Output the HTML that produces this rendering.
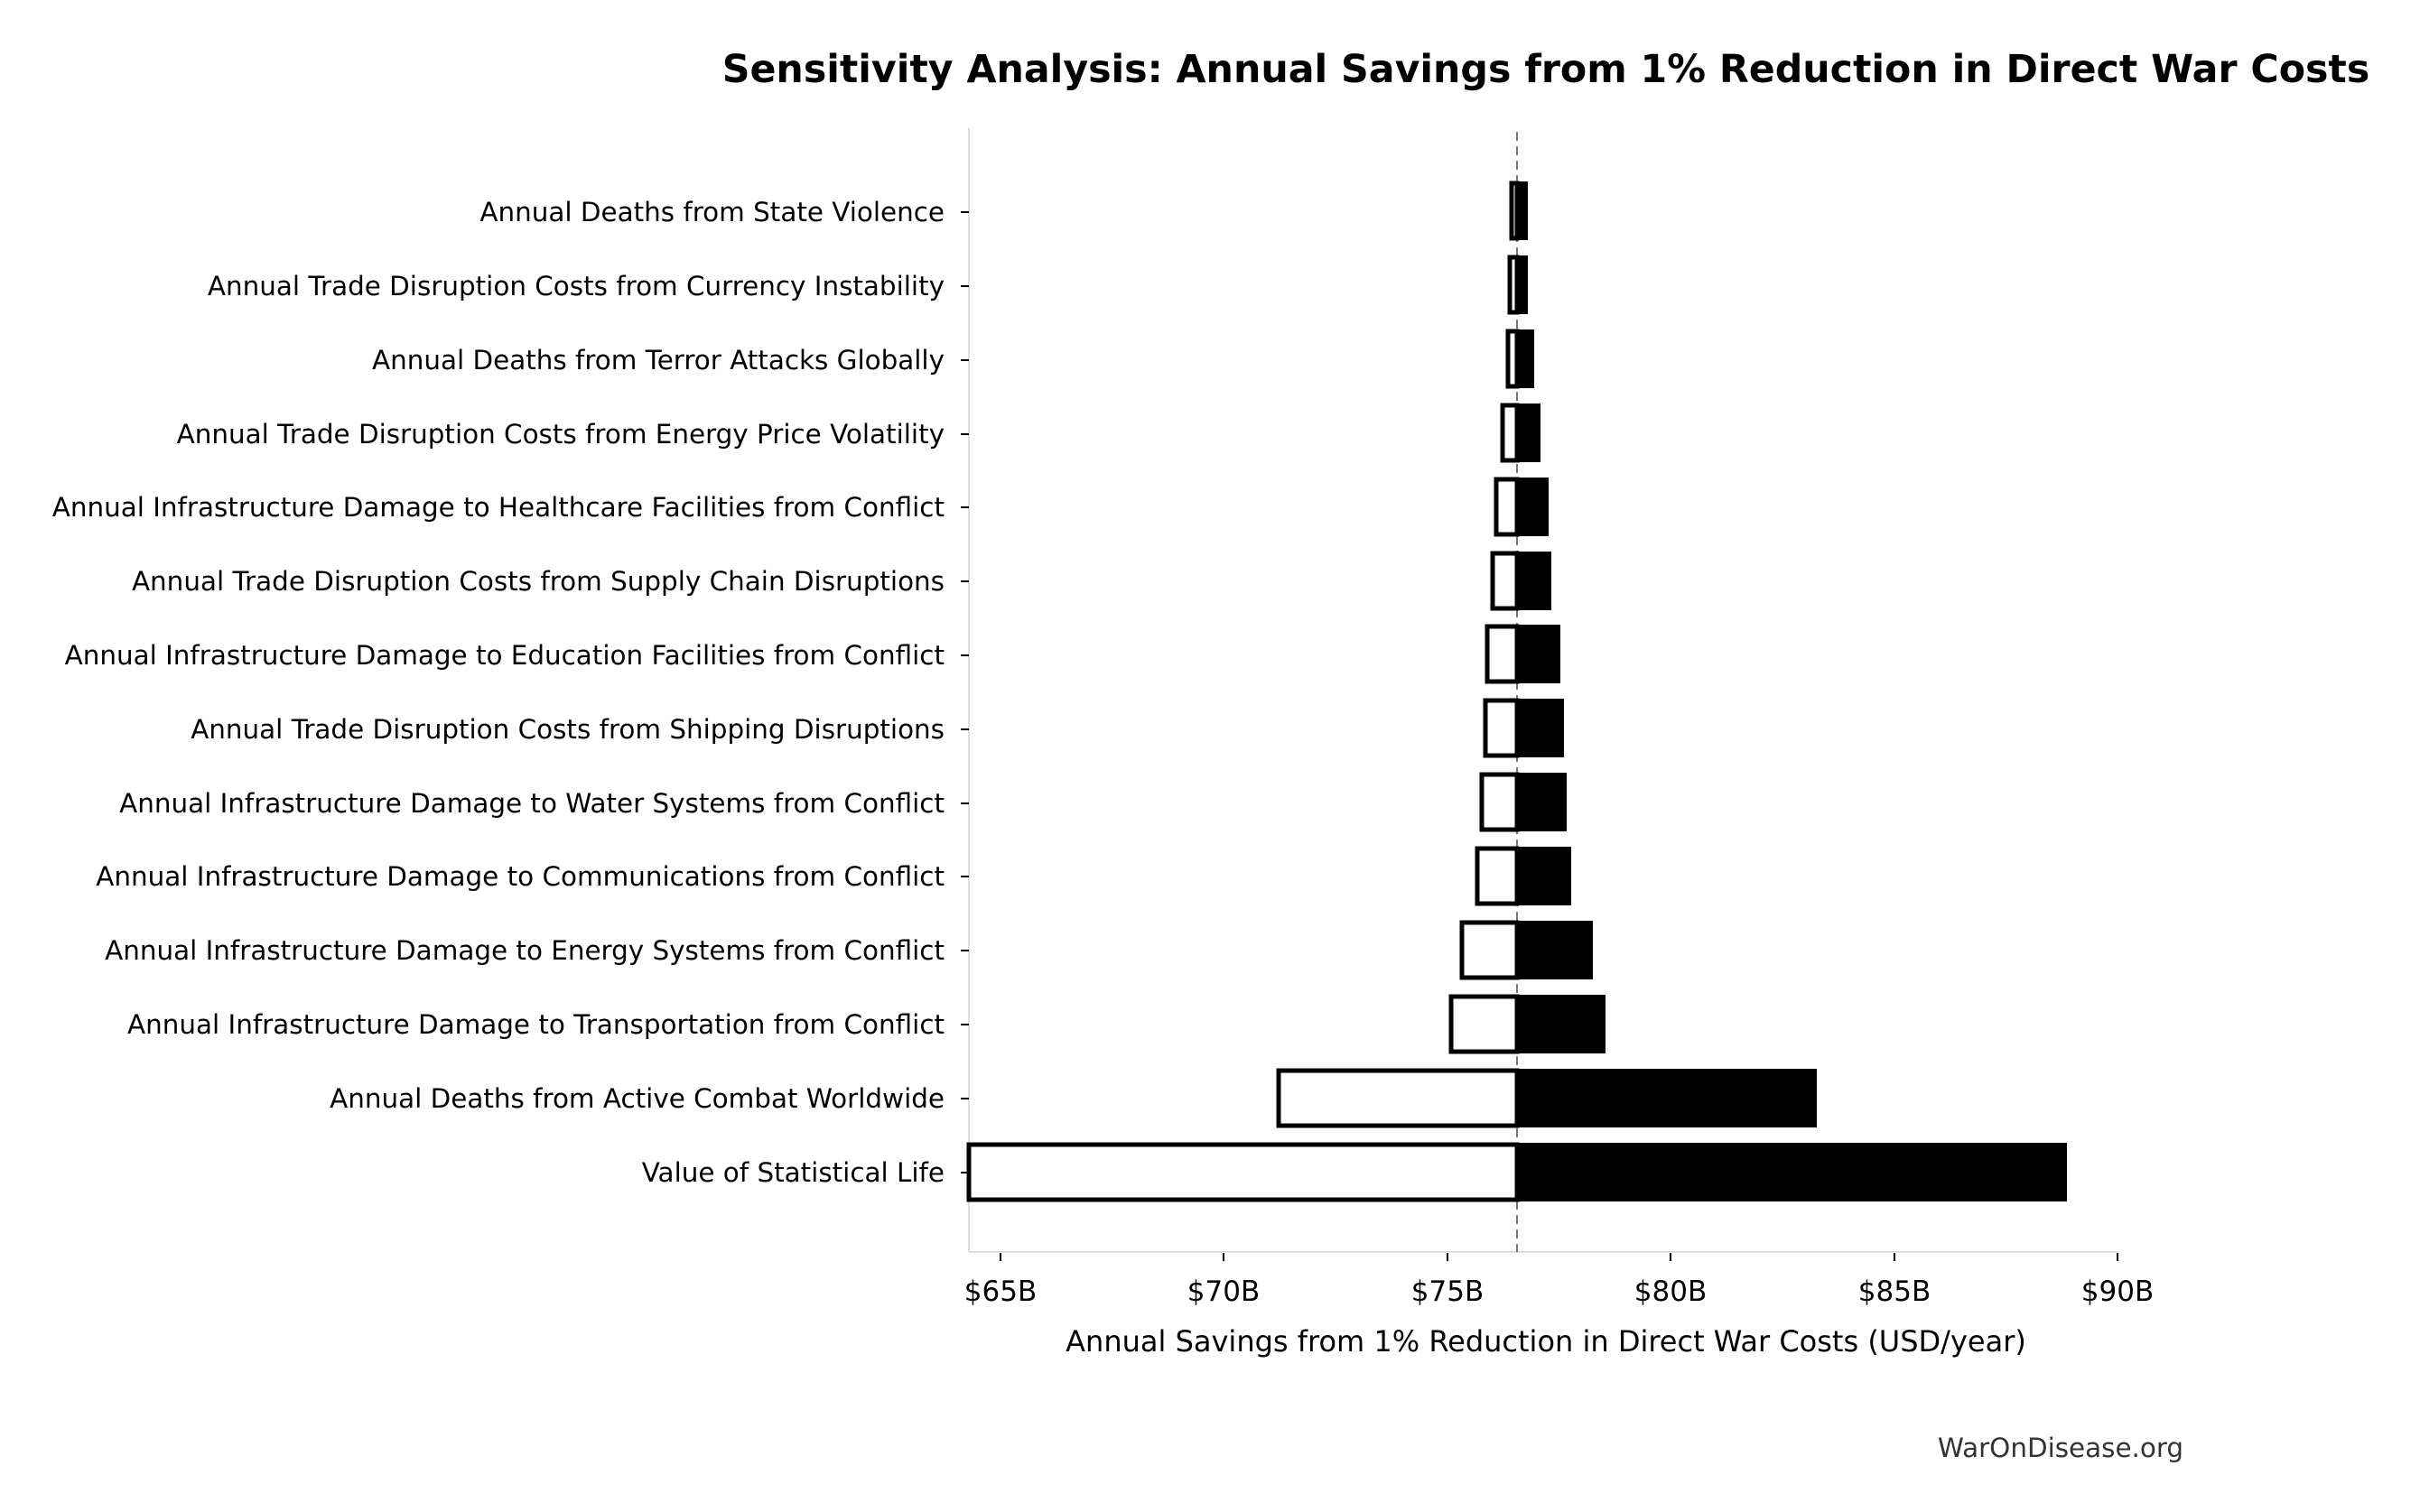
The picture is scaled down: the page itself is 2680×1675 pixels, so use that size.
<!DOCTYPE html>
<html><head><meta charset="utf-8"><style>
html,body{margin:0;padding:0;background:#fff}
svg{display:block}
text{font-family:"DejaVu Sans","Liberation Sans",sans-serif}
</style></head><body>
<svg width="2680" height="1675" viewBox="0 0 2680 1675" xmlns="http://www.w3.org/2000/svg">
<rect width="2680" height="1675" fill="#fff"/>
<text x="1712" y="91" font-size="42.7" font-weight="bold" text-anchor="middle">Sensitivity Analysis: Annual Savings from 1% Reduction in Direct War Costs</text>
<line x1="1073" y1="142" x2="1073" y2="1387" stroke="#ddd" stroke-width="2"/>
<line x1="1073" y1="1387" x2="2345" y2="1387" stroke="#ddd" stroke-width="2"/>
<line x1="1680" y1="146" x2="1680" y2="1387" stroke="#777" stroke-width="2" stroke-dasharray="10,6"/>
<g stroke="#000" stroke-width="5">
<rect x="1674" y="203" width="6" height="61" fill="#fff"/><rect x="1680" y="201" width="12" height="65" fill="#000" stroke="none"/>
<rect x="1672" y="285" width="8" height="61" fill="#fff"/><rect x="1680" y="283" width="12" height="65" fill="#000" stroke="none"/>
<rect x="1670" y="367" width="10" height="61" fill="#fff"/><rect x="1680" y="365" width="19" height="65" fill="#000" stroke="none"/>
<rect x="1664" y="449" width="16" height="61" fill="#fff"/><rect x="1680" y="447" width="26" height="65" fill="#000" stroke="none"/>
<rect x="1657" y="531" width="23" height="61" fill="#fff"/><rect x="1680" y="529" width="35" height="65" fill="#000" stroke="none"/>
<rect x="1653" y="613" width="27" height="61" fill="#fff"/><rect x="1680" y="611" width="38" height="65" fill="#000" stroke="none"/>
<rect x="1647" y="694" width="33" height="61" fill="#fff"/><rect x="1680" y="692" width="48" height="65" fill="#000" stroke="none"/>
<rect x="1645" y="776" width="35" height="61" fill="#fff"/><rect x="1680" y="774" width="52" height="65" fill="#000" stroke="none"/>
<rect x="1641" y="858" width="39" height="61" fill="#fff"/><rect x="1680" y="856" width="55" height="65" fill="#000" stroke="none"/>
<rect x="1636" y="940" width="44" height="61" fill="#fff"/><rect x="1680" y="938" width="60" height="65" fill="#000" stroke="none"/>
<rect x="1619" y="1022" width="61" height="61" fill="#fff"/><rect x="1680" y="1020" width="84" height="65" fill="#000" stroke="none"/>
<rect x="1607" y="1104" width="73" height="61" fill="#fff"/><rect x="1680" y="1102" width="98" height="65" fill="#000" stroke="none"/>
<rect x="1416" y="1186" width="264" height="61" fill="#fff"/><rect x="1680" y="1184" width="332" height="65" fill="#000" stroke="none"/>
<rect x="1073" y="1268" width="607" height="61" fill="#fff"/><rect x="1680" y="1266" width="609" height="65" fill="#000" stroke="none"/>
</g>
<g font-size="29.4" text-anchor="end" fill="#000">
<text x="1046" y="245">Annual Deaths from State Violence</text>
<text x="1046" y="327">Annual Trade Disruption Costs from Currency Instability</text>
<text x="1046" y="409">Annual Deaths from Terror Attacks Globally</text>
<text x="1046" y="491">Annual Trade Disruption Costs from Energy Price Volatility</text>
<text x="1046" y="572">Annual Infrastructure Damage to Healthcare Facilities from Conflict</text>
<text x="1046" y="654">Annual Trade Disruption Costs from Supply Chain Disruptions</text>
<text x="1046" y="736">Annual Infrastructure Damage to Education Facilities from Conflict</text>
<text x="1046" y="818">Annual Trade Disruption Costs from Shipping Disruptions</text>
<text x="1046" y="900">Annual Infrastructure Damage to Water Systems from Conflict</text>
<text x="1046" y="981">Annual Infrastructure Damage to Communications from Conflict</text>
<text x="1046" y="1063">Annual Infrastructure Damage to Energy Systems from Conflict</text>
<text x="1046" y="1145">Annual Infrastructure Damage to Transportation from Conflict</text>
<text x="1046" y="1227">Annual Deaths from Active Combat Worldwide</text>
<text x="1046" y="1309">Value of Statistical Life</text>
</g>
<g stroke="#000" stroke-width="2">
<line x1="1064" y1="235" x2="1073" y2="235"/><line x1="1064" y1="317" x2="1073" y2="317"/><line x1="1064" y1="399" x2="1073" y2="399"/><line x1="1064" y1="481" x2="1073" y2="481"/><line x1="1064" y1="562" x2="1073" y2="562"/><line x1="1064" y1="644" x2="1073" y2="644"/><line x1="1064" y1="726" x2="1073" y2="726"/><line x1="1064" y1="808" x2="1073" y2="808"/><line x1="1064" y1="890" x2="1073" y2="890"/><line x1="1064" y1="971" x2="1073" y2="971"/><line x1="1064" y1="1053" x2="1073" y2="1053"/><line x1="1064" y1="1135" x2="1073" y2="1135"/><line x1="1064" y1="1217" x2="1073" y2="1217"/><line x1="1064" y1="1299" x2="1073" y2="1299"/>
<line x1="1108" y1="1388" x2="1108" y2="1397"/><line x1="1355" y1="1388" x2="1355" y2="1397"/><line x1="1603" y1="1388" x2="1603" y2="1397"/><line x1="1850" y1="1388" x2="1850" y2="1397"/><line x1="2098" y1="1388" x2="2098" y2="1397"/><line x1="2345" y1="1388" x2="2345" y2="1397"/>
</g>
<g font-size="31" text-anchor="middle">
<text x="1108" y="1441">$65B</text><text x="1355" y="1441">$70B</text><text x="1603" y="1441">$75B</text><text x="1850" y="1441">$80B</text><text x="2098" y="1441">$85B</text><text x="2345" y="1441">$90B</text>
</g>
<text x="1712" y="1497" font-size="32" text-anchor="middle">Annual Savings from 1% Reduction in Direct War Costs (USD/year)</text>
<text x="2282" y="1614" font-size="29.4" text-anchor="middle" fill="#333">WarOnDisease.org</text>
</svg>
</body></html>
